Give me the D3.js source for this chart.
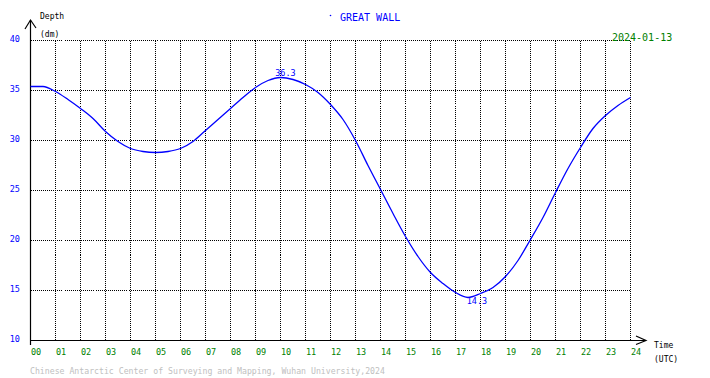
<!DOCTYPE html>
<html>
<head>
<meta charset="utf-8">
<script src="https://cdn.jsdelivr.net/npm/d3@7"></script>
<style>
  body { margin: 0; background: #fff; }
  svg { display: block; font-family: "DejaVu Sans Mono", monospace; }
</style>
</head>
<body>
<svg id="chart" width="710" height="378"></svg>
<script>
// tide readings, every half hour (UTC)
var hours = [0,0.5,1,1.5,2,2.5,3,3.5,4,4.5,5,5.5,6,6.5,7,7.5,8,8.5,9,9.5,10,10.5,11,11.5,
             12,12.5,13,13.5,14,14.5,15,15.5,16,16.5,17,17.5,18,18.5,19,19.5,20,20.5,21,21.5,
             22,22.5,23,23.5,24];
var depth = [35.4,35.4,34.9,34.1,33.2,32.2,30.9,29.9,29.2,28.9,28.8,28.9,29.2,29.9,31.0,32.1,
             33.2,34.3,35.3,36.0,36.3,36.1,35.6,34.8,33.6,32.1,30.0,27.5,25.1,22.7,20.4,18.4,
             16.8,15.7,14.8,14.3,14.7,15.3,16.4,18.0,20.1,22.3,24.8,27.2,29.3,31.2,32.5,33.5,34.3];
var xTicks = d3.range(0, 25);
var yTicks = [10, 15, 20, 25, 30, 35, 40];
var station = "GREAT WALL";
var dateLabel = "2024-01-13";
var footer = "Chinese Antarctic Center of Surveying and Mapping, Wuhan University,2024";

var svg = d3.select("#chart");
var x = d3.scaleLinear().domain([0, 24]).range([30.5, 630.5]);
var y = d3.scaleLinear().domain([10, 40]).range([340.5, 40.5]);

// dotted grid
svg.append("g").selectAll("line").data(yTicks.slice(1)).enter().append("line")
  .attr("x1", x(0)).attr("x2", x(24))
  .attr("y1", function(d) { return y(d); }).attr("y2", function(d) { return y(d); })
  .attr("stroke", "#000").attr("stroke-dasharray", "1,1").attr("shape-rendering", "crispEdges");
svg.append("g").selectAll("line").data(xTicks.slice(1)).enter().append("line")
  .attr("x1", function(d) { return x(d); }).attr("x2", function(d) { return x(d); })
  .attr("y1", y(40)).attr("y2", y(10))
  .attr("stroke", "#000").attr("stroke-dasharray", "1,1").attr("shape-rendering", "crispEdges");

// axes with arrows
var ax = svg.append("g").attr("stroke", "#000").attr("fill", "none").attr("stroke-width", 1.2);
ax.append("line").attr("x1", x(0)).attr("x2", x(0)).attr("y1", 20).attr("y2", 345);
ax.append("line").attr("x1", x(0)).attr("x2", 646).attr("y1", y(10)).attr("y2", y(10));
ax.append("polyline").attr("points", [[25, 29], [x(0), 20], [36, 28]].join(" "));
ax.append("polyline").attr("points", [[636, 336], [646, y(10)], [636, 344.5]].join(" "));

// tick labels
svg.append("g").selectAll("text").data(yTicks).enter().append("text")
  .attr("x", 20).attr("y", function(d) { return y(d) + 1; })
  .attr("text-anchor", "end").attr("font-size", 8.5).attr("fill", "#0000ff")
  .text(function(d) { return d; });
svg.append("g").selectAll("text").data(xTicks).enter().append("text")
  .attr("x", function(d) { return x(d) + 0.5; }).attr("y", 355)
  .attr("font-size", 8.5).attr("fill", "#008000")
  .text(function(d) { return d3.format("02d")(d); });

// axis titles
svg.append("text").attr("x", 40).attr("y", 19).attr("font-size", 8).text("Depth");
svg.append("text").attr("x", 40).attr("y", 37).attr("font-size", 8).text("(dm)");
svg.append("text").attr("x", 654).attr("y", 348).attr("font-size", 8).text("Time");
svg.append("text").attr("x", 654).attr("y", 362).attr("font-size", 8).text("(UTC)");

// title and date
svg.append("circle").attr("cx", 330.5).attr("cy", 15.5).attr("r", 0.8).attr("fill", "#0000ff");
svg.append("text").attr("x", 340).attr("y", 20.5).attr("font-size", 10).attr("fill", "#0000ff").text(station);
svg.append("text").attr("x", 612).attr("y", 41).attr("font-size", 10).attr("fill", "#008000").text(dateLabel);
svg.append("text").attr("x", 30).attr("y", 374).attr("font-size", 8.2).attr("fill", "#c0c0c0").text(footer);

// tide curve
var pts = hours.map(function(h, i) { return [h, depth[i]]; });
var line = d3.line().curve(d3.curveMonotoneX)
  .x(function(d) { return x(d[0]); }).y(function(d) { return y(d[1]); });
svg.append("path").datum(pts).attr("d", line)
  .attr("fill", "none").attr("stroke", "#0000ff").attr("stroke-width", 1.3);

// high / low labels
var iMax = d3.maxIndex(depth), iMin = d3.minIndex(depth);
svg.append("text").attr("x", x(hours[iMax]) + 5).attr("y", y(depth[iMax]) - 2)
  .attr("text-anchor", "middle").attr("font-size", 8.5).attr("fill", "#0000ff")
  .text(depth[iMax].toFixed(1));
svg.append("text").attr("x", x(hours[iMin]) + 9).attr("y", y(depth[iMin]) + 6)
  .attr("text-anchor", "middle").attr("font-size", 8.5).attr("fill", "#0000ff")
  .text(depth[iMin].toFixed(1));
</script>
</body>
</html>
